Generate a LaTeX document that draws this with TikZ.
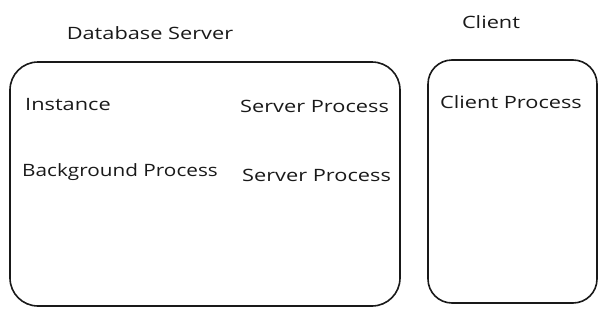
\documentclass[tikz,border=0pt]{standalone}
\usepackage{fontspec}
\setmainfont{Open Sans}
\newcommand{\hand}[2][1.28]{\scalebox{#1}[1]{#2}}
\begin{document}
\begin{tikzpicture}[x=1pt,y=-1pt,
  box/.style={draw=black!90,line width=1.6pt,rounded corners=28pt},
  lbl/.style={inner sep=0pt,font=\fontsize{17}{20}\selectfont,text=black!90}]
\useasboundingbox (0,0) rectangle (602,316);
\node[box,minimum width=390pt,minimum height=244pt] (server) at (205,184) {};
\node[box,rounded corners=24pt,minimum width=169pt,minimum height=243pt] (client) at (512.5,181.5) {};
\node[lbl] (dbs) at (150,33) {\hand{Database Server}};
\node[lbl] (cl) at (491,22) {\hand{Client}};
\node[lbl,anchor=west] (inst) at (25,105) {\hand{Instance}};
\node[lbl,anchor=west] (sp1) at (240,106) {\hand{Server Process}};
\node[lbl,anchor=west] (bg) at (22,172) {\hand[1.22]{Background Process}};
\node[lbl,anchor=west] (sp2) at (242,175) {\hand{Server Process}};
\node[lbl,anchor=west] (cp) at (440,102) {\hand{Client Process}};
\end{tikzpicture}
\end{document}
